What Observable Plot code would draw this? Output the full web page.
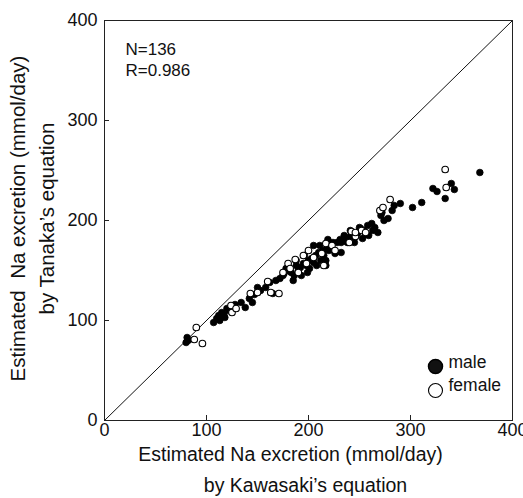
<!DOCTYPE html>
<html>
<head>
<meta charset="utf-8">
<script src="https://cdn.jsdelivr.net/npm/d3@7"></script>
<script src="https://cdn.jsdelivr.net/npm/@observablehq/plot@0.6"></script>
<style>
  html, body { margin: 0; padding: 0; background: #fff; }
  #chart { width: 523px; height: 498px; }
</style>
</head>
<body>
<div id="chart"></div>
<script>
// Estimated daily Na excretion: Kawasaki's equation (x) vs Tanaka's equation (y)
const maleKawasaki = [80, 81, 82, 107, 110, 112, 113, 115, 117, 118, 120, 122,
  128, 134, 138, 142, 145, 147, 150, 153, 158, 162, 165, 168, 172, 175,
  176, 178, 180, 183, 185, 186, 188, 188, 190, 192, 193, 195, 196, 198, 199, 200, 201, 203, 205, 205, 207, 208, 210, 211, 212, 214, 215, 217, 217, 218, 220,
  219, 222, 224, 226, 228, 231, 232, 235, 235, 238, 239, 241, 241, 243, 248, 250, 251, 253, 254, 256, 258, 259, 262, 265, 268, 232, 245,
  271, 272, 274, 278, 282, 284, 290, 302, 311, 322, 326, 334, 340, 343, 368, 263];
const maleTanaka = [78, 83, 80, 98, 102, 105, 100, 108, 106, 103, 112, 110,
  116, 118, 113, 122, 118, 126, 133, 130, 133, 138, 127, 140, 142, 145,
  147, 152, 150, 148, 140, 145, 155, 160, 150, 153, 145, 157, 165, 155, 148, 160, 152, 162, 175, 158, 165, 155, 168, 175, 160, 170, 165, 160, 155, 172, 170,
  181, 175, 178, 167, 178, 181, 178, 180, 185, 178, 180, 190, 184, 181, 187, 193, 192, 182, 190, 186, 195, 185, 197, 193, 188, 168, 178,
  205, 208, 200, 202, 210, 215, 217, 213, 218, 232, 229, 222, 237, 231, 248, 190];

const femaleKawasaki = [88, 90, 96, 124, 125, 129, 143, 150, 160, 163, 171, 175,
  180, 182, 187, 190, 195, 198, 200, 205, 213, 215, 217, 223, 226, 240, 242, 246, 252, 256,
  270, 273, 280, 335, 334, 246];
const femaleTanaka = [81, 93, 77, 115, 108, 112, 127, 128, 139, 128, 127, 148,
  157, 152, 161, 148, 165, 157, 170, 163, 167, 155, 177, 175, 170, 178, 189, 184, 190, 188,
  210, 213, 221, 233, 251, 188];

const axisDomain = [0, 400];
const xTicks = [0, 100, 200, 300, 400];
const yTicks = [0, 100, 200, 300, 400];
const innerTicks = [100, 200, 300];
const correlation = "0.986";

const males = maleKawasaki.map((x, i) => ({x, y: maleTanaka[i]}));
const females = femaleKawasaki.map((x, i) => ({x, y: femaleTanaka[i]}));
const n = males.length + females.length;

const W = 523, H = 498;
const mL = 104, mR = 11, mT = 20, mB = 78;
const frameW = W - mL - mR, frameH = H - mT - mB;
const tickLen = 5;

// one-line text anchored to the frame
const label = (s, opts) => Plot.text([s], {text: d => d, ...opts});

const chart = Plot.plot({
  width: W,
  height: H,
  marginLeft: mL,
  marginRight: mR,
  marginTop: mT,
  marginBottom: mB,
  style: {fontFamily: "'Liberation Sans', Arial, Helvetica, sans-serif", fontSize: "18px", color: "#111", background: "#fff", overflow: "visible"},
  x: {domain: axisDomain},
  y: {domain: axisDomain},
  marks: [
    // identity line y = x
    Plot.link([axisDomain], {x1: d => d[0], y1: d => d[0], x2: d => d[1], y2: d => d[1], stroke: "#111", strokeWidth: 1}),
    Plot.frame({stroke: "#222", strokeWidth: 1}),
    // tick labels
    Plot.axisX(xTicks, {tickSize: 0, tickPadding: 3, label: null, fontSize: 18}),
    Plot.axisY(yTicks, {tickSize: 0, tickPadding: 7, label: null, fontSize: 18}),
    // inward ticks
    Plot.tickX(innerTicks, {x: d => d, insetTop: frameH - tickLen, stroke: "#222"}),
    Plot.tickY(innerTicks, {y: d => d, insetRight: frameW - tickLen, stroke: "#222"}),
    // data
    Plot.dot(males, {x: "x", y: "y", r: 3.3, fill: "#000", stroke: "#000", strokeWidth: 0.8}),
    Plot.dot(females, {x: "x", y: "y", r: 3.3, fill: "#fff", stroke: "#000", strokeWidth: 1.1}),
    // statistics
    label(`N=${n}`, {frameAnchor: "top-left", textAnchor: "start", dx: 21, dy: 22, fontSize: 17}),
    label(`R=${correlation}`, {frameAnchor: "top-left", textAnchor: "start", dx: 21, dy: 43, fontSize: 17}),
    // legend
    Plot.dot(["male"], {frameAnchor: "bottom-right", dx: -77, dy: -54, r: 7, fill: "#111", stroke: "#000"}),
    Plot.dot(["female"], {frameAnchor: "bottom-right", dx: -77, dy: -30, r: 7, fill: "#fff", stroke: "#000", strokeWidth: 1.1}),
    label("male", {frameAnchor: "bottom-right", textAnchor: "start", dx: -64, dy: -53, fontSize: 17.5}),
    label("female", {frameAnchor: "bottom-right", textAnchor: "start", dx: -64, dy: -30, fontSize: 17.5}),
    // axis titles
    label("Estimated Na excretion (mmol/day)", {frameAnchor: "bottom", dx: -18, dy: 40, fontSize: 19.5}),
    label("by Kawasaki\u2019s equation", {frameAnchor: "bottom", dx: -3, dy: 71, fontSize: 19.5}),
    label("Estimated  Na excretion (mmol/day)", {frameAnchor: "left", textAnchor: "middle", rotate: -90, dx: -86, dy: -2, fontSize: 20.5}),
    label("by Tanaka\u2019s equation", {frameAnchor: "left", textAnchor: "middle", rotate: -90, dx: -57, dy: -2, fontSize: 20.5})
  ]
});

document.getElementById("chart").appendChild(chart);
</script>
</body>
</html>
